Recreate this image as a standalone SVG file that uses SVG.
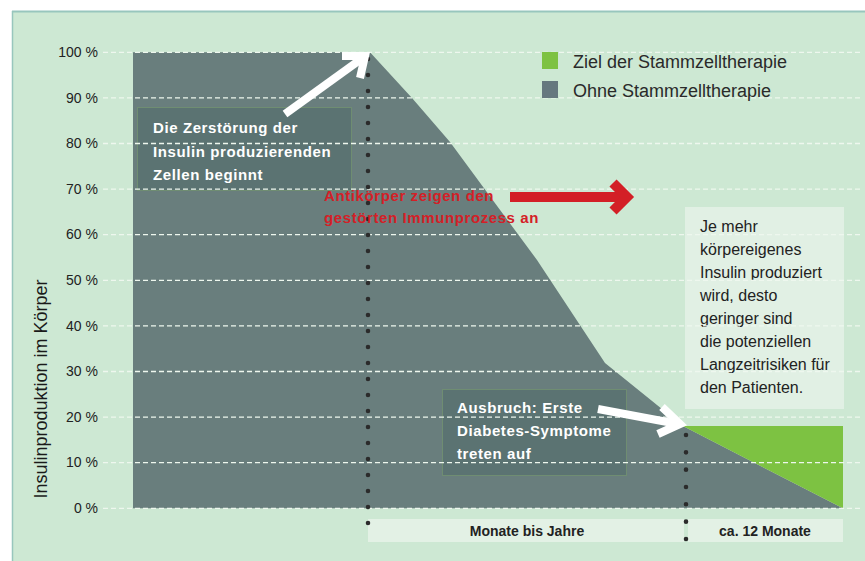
<svg xmlns="http://www.w3.org/2000/svg" width="865" height="561" viewBox="0 0 865 561">
<style>
.ylab{font-family:"Liberation Sans",Arial,sans-serif;font-size:14px;fill:#222;text-anchor:end}
.grid{stroke:#eef7ee;stroke-width:1.3;stroke-dasharray:5 3;fill:none}
.box{fill:#5b7372;stroke:#6f8d72;stroke-width:1}
.wt{font-family:"Liberation Sans",Arial,sans-serif;font-size:15px;font-weight:bold;fill:#fff;letter-spacing:0.6px}
.rt{font-family:"Liberation Sans",Arial,sans-serif;font-size:15px;font-weight:bold;fill:#d42027;letter-spacing:0.6px}
.bt{font-family:"Liberation Sans",Arial,sans-serif;font-size:16px;fill:#222}
.leg{font-family:"Liberation Sans",Arial,sans-serif;font-size:18px;fill:#2a2a2a}
.lbl{font-family:"Liberation Sans",Arial,sans-serif;font-size:14px;font-weight:bold;fill:#222;text-anchor:middle}
.dots{stroke:#2b2b2b;stroke-width:4.6;stroke-linecap:round;fill:none}
.warr{stroke:#fff;stroke-width:8;fill:none;stroke-linejoin:miter}
.rarr{stroke:#d31f26;stroke-width:10;fill:none;stroke-linejoin:miter}
</style>
<rect x="0" y="0" width="865" height="561" fill="#fff"/>
<rect x="12" y="11" width="853" height="550" fill="#cde8d3"/>
<line x1="12" y1="11.5" x2="865" y2="11.5" stroke="#98c6bd" stroke-width="2"/>
<line x1="12.5" y1="11" x2="12.5" y2="561" stroke="#98c6bd" stroke-width="1.5"/>

<g id="chart-area">
<polygon points="133,52.3 370,52.3 412,98 450,142 537,260 605,363 683,426 843,508.3 133,508.3" fill="#697e7d"/>
<polygon points="683,426 843,426 843,508.3" fill="#7dc242"/>
</g>

<g id="label-bar">
<rect x="368" y="519" width="316" height="23" fill="#e3f1e5"/>
<rect x="688" y="519" width="155" height="23" fill="#e3f1e5"/>
<text class="lbl" x="527" y="536">Monate bis Jahre</text>
<text class="lbl" x="765" y="536">ca. 12 Monate</text>
</g>

<g id="box-zerstoerung">
<rect class="box" x="137.5" y="107.5" width="214" height="83"/>
<text class="wt" x="153" y="133">Die Zerstörung der</text>
<text class="wt" x="153" y="157">Insulin produzierenden</text>
<text class="wt" x="153" y="180">Zellen beginnt</text>
</g>

<g id="box-ausbruch">
<rect class="box" x="442.5" y="389.5" width="184" height="86"/>
<text class="wt" x="457" y="413">Ausbruch: Erste</text>
<text class="wt" x="457" y="436">Diabetes-Symptome</text>
<text class="wt" x="457" y="459">treten auf</text>
</g>

<g id="box-info">
<rect x="685" y="207" width="159" height="202" fill="#e1f0e4"/>
<text class="bt" x="700" y="232">Je mehr</text>
<text class="bt" x="700" y="255">körpereigenes</text>
<text class="bt" x="700" y="278">Insulin produziert</text>
<text class="bt" x="700" y="301">wird, desto</text>
<text class="bt" x="700" y="324">geringer sind</text>
<text class="bt" x="700" y="347">die potenziellen</text>
<text class="bt" x="700" y="370">Langzeitrisiken für</text>
<text class="bt" x="700" y="393">den Patienten.</text>
</g>

<g id="gridlines">
<line class="grid" x1="103" y1="52.3" x2="862" y2="52.3"/>
<line class="grid" x1="103" y1="97.9" x2="862" y2="97.9"/>
<line class="grid" x1="103" y1="143.5" x2="862" y2="143.5"/>
<line class="grid" x1="103" y1="189.1" x2="862" y2="189.1"/>
<line class="grid" x1="103" y1="234.7" x2="862" y2="234.7"/>
<line class="grid" x1="103" y1="280.3" x2="862" y2="280.3"/>
<line class="grid" x1="103" y1="325.9" x2="862" y2="325.9"/>
<line class="grid" x1="103" y1="371.5" x2="862" y2="371.5"/>
<line class="grid" x1="103" y1="417.1" x2="862" y2="417.1"/>
<line class="grid" x1="103" y1="462.7" x2="862" y2="462.7"/>
<line class="grid" x1="103" y1="508.3" x2="862" y2="508.3"/>
</g>

<g id="y-axis">
<text class="ylab" x="98" y="57">100 %</text>
<text class="ylab" x="98" y="102.5">90 %</text>
<text class="ylab" x="98" y="148">80 %</text>
<text class="ylab" x="98" y="193.5">70 %</text>
<text class="ylab" x="98" y="239">60 %</text>
<text class="ylab" x="98" y="285">50 %</text>
<text class="ylab" x="98" y="330.5">40 %</text>
<text class="ylab" x="98" y="376">30 %</text>
<text class="ylab" x="98" y="421.5">20 %</text>
<text class="ylab" x="98" y="467">10 %</text>
<text class="ylab" x="98" y="513">0 %</text>
<text x="0" y="0" transform="translate(47,389) rotate(-90)" text-anchor="middle" style="font-family:'Liberation Sans',Arial,sans-serif;font-size:18px;fill:#1a1a1a">Insulinproduktion im Körper</text>
</g>

<g id="legend">
<rect x="542" y="52" width="16" height="17" fill="#7dc242"/>
<rect x="542" y="81" width="16" height="17" fill="#66787f"/>
<text class="leg" x="573" y="68">Ziel der Stammzelltherapie</text>
<text class="leg" x="573" y="97">Ohne Stammzelltherapie</text>
</g>

<g id="connectors">
<line class="dots" x1="368" y1="59" x2="368" y2="539" stroke-dasharray="0 16"/>
<line class="dots" x1="686" y1="435" x2="686" y2="539" stroke-dasharray="0 17.33"/>
<line class="warr" x1="285" y1="114" x2="364" y2="57"/>
<polyline class="warr" points="342,56 365,56 360,78"/>
<line class="warr" x1="598" y1="409" x2="678" y2="424"/>
<polyline class="warr" points="662,407 680,424 658,434"/>
<line class="rarr" x1="510" y1="197" x2="626" y2="197"/>
<polyline class="rarr" points="613,183 627,197 613,211"/>
</g>

<g id="red-label">
<text class="rt" x="324" y="201">Antikörper zeigen den</text>
<text class="rt" x="324" y="223">gestörten Immunprozess an</text>
</g>
</svg>
